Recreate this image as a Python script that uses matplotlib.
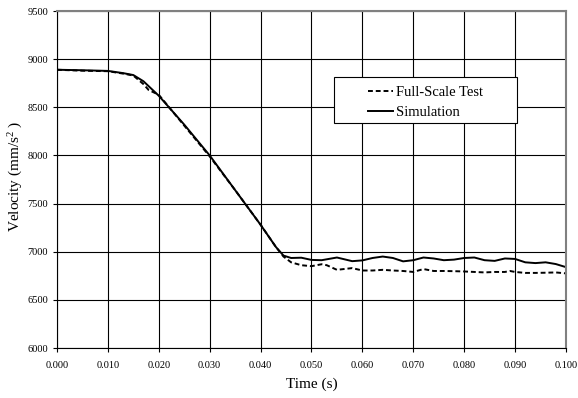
import matplotlib
matplotlib.use("Agg")
import matplotlib.pyplot as plt
from matplotlib.patches import Rectangle

# 時間 (s)
t_sim = [0.000, 0.005, 0.010, 0.013, 0.015, 0.017, 0.020, 0.025, 0.030, 0.035,
         0.040, 0.043, 0.0445, 0.046, 0.048, 0.050, 0.052, 0.055, 0.058, 0.060,
         0.062, 0.064, 0.066, 0.068, 0.070, 0.072, 0.074, 0.076, 0.078, 0.080,
         0.082, 0.084, 0.086, 0.088, 0.090, 0.092, 0.094, 0.096, 0.098, 0.100]
v_sim = [8890, 8885, 8878, 8855, 8835, 8770, 8620, 8320, 8000, 7640,
         7280, 7050, 6960, 6935, 6938, 6915, 6912, 6940, 6902, 6910,
         6935, 6950, 6935, 6900, 6912, 6940, 6930, 6912, 6918, 6935,
         6940, 6912, 6905, 6930, 6925, 6890, 6882, 6890, 6872, 6840]

t_test = [0.000, 0.005, 0.010, 0.013, 0.015, 0.017, 0.018, 0.019, 0.020, 0.025,
          0.030, 0.035, 0.040, 0.043, 0.0445, 0.046, 0.048, 0.050, 0.052, 0.053,
          0.055, 0.058, 0.060, 0.062, 0.064, 0.066, 0.068, 0.070, 0.072, 0.074,
          0.076, 0.078, 0.080, 0.082, 0.084, 0.086, 0.088, 0.089, 0.090, 0.092,
          0.094, 0.096, 0.098, 0.100]
v_test = [8890, 8880, 8875, 8850, 8830, 8740, 8680, 8655, 8630, 8310,
          7990, 7640, 7280, 7050, 6950, 6890, 6860, 6850, 6870, 6860,
          6812, 6830, 6805, 6805, 6812, 6805, 6800, 6790, 6820, 6800,
          6800, 6798, 6795, 6790, 6785, 6790, 6790, 6800, 6790, 6780,
          6780, 6782, 6785, 6775]

x_ticks = [0.000, 0.010, 0.020, 0.030, 0.040, 0.050, 0.060, 0.070, 0.080, 0.090, 0.100]
y_ticks = [6000, 6500, 7000, 7500, 8000, 8500, 9000, 9500]

plt.rcParams.update({
    "font.family": ["Liberation Serif", "DejaVu Serif"],
    "mathtext.fontset": "custom",
    "mathtext.rm": "Liberation Serif",
    "mathtext.it": "Liberation Serif:italic",
})

fig = plt.figure(figsize=(5.78, 3.98), dpi=100)
ax = fig.add_axes([0.0986, 0.1256, 0.8806, 0.8467])

ax.plot(t_test, v_test, color="black", linestyle=(0, (2.5, 1.5)), linewidth=1.4,
        label="Full-Scale Test")
ax.plot(t_sim, v_sim, color="black", linestyle="-", linewidth=1.4,
        label="Simulation")

ax.set_xlim(0, 0.1)
ax.set_ylim(6000, 9500)
ax.set_xticks(x_ticks)
ax.set_xticklabels(["%.3f" % x for x in x_ticks])
ax.set_yticks(y_ticks)
ax.tick_params(labelsize=7.5, length=3, width=0.8, direction="out")
ax.tick_params(axis="x", pad=6)

ax.grid(True, color="black", linewidth=0.8)
ax.set_axisbelow(True)
for s in ["top", "right"]:
    ax.spines[s].set_color("#808080")
    ax.spines[s].set_linewidth(1.5)
for s in ["left", "bottom"]:
    ax.spines[s].set_color("black")
    ax.spines[s].set_linewidth(0.8)

ax.set_xlabel("Time (s)", fontsize=11, labelpad=6)
ax.set_ylabel("Velocity (mm/s$^{2}$ )", fontsize=11)
ax.yaxis.set_label_coords(-0.062, 0.51)

# 圖例外框
box = Rectangle((0.544, 0.668), 0.360, 0.136, transform=ax.transAxes,
                facecolor="white", edgecolor="black", linewidth=0.8, zorder=4)
ax.add_patch(box)

leg = ax.legend(loc="upper left", bbox_to_anchor=(0.611, 0.778), fontsize=10.5,
                frameon=False, handlelength=1.7, handletextpad=0.25,
                borderpad=0, labelspacing=0.45, borderaxespad=0)
leg.set_zorder(5)

fig.savefig("out.png", dpi=100)
